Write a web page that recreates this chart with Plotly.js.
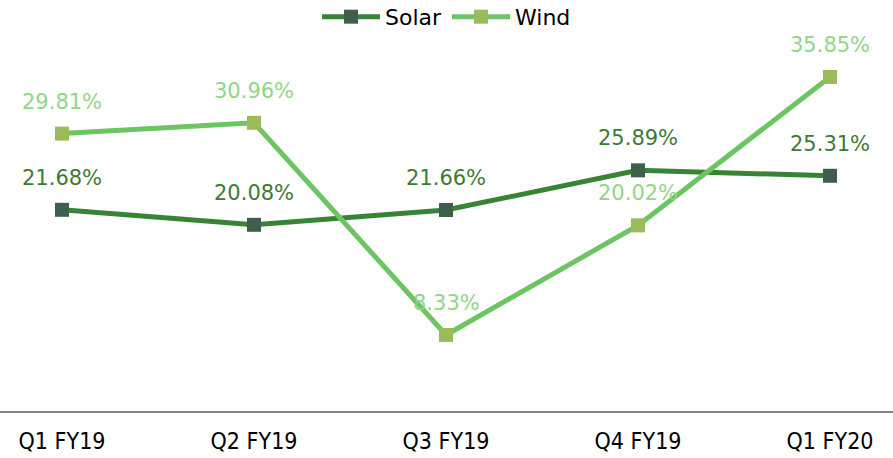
<!DOCTYPE html>
<html>
<head>
<meta charset="utf-8">
<script src="https://cdn.plot.ly/plotly-3.0.1.min.js"></script>
<style>html,body{margin:0;padding:0;background:#fff;}#chart{width:893px;height:458px;}</style>
</head>
<body>
<div id="chart"></div>
<script>
var categories = ["Q1 FY19", "Q2 FY19", "Q3 FY19", "Q4 FY19", "Q1 FY20"];
var solar = [21.68, 20.08, 21.66, 25.89, 25.31];
var wind = [29.81, 30.96, 8.33, 20.02, 35.85];
var seriesNames = ["Solar", "Wind"];

var labelFont = "'DejaVu Sans', 'Noto Sans', sans-serif";

var traces = [
  {
    x: categories, y: solar, name: seriesNames[0], type: "scatter", mode: "lines+markers",
    line: {color: "#368434", width: 5},
    marker: {symbol: "square", size: 14, color: "#3f5f4e"},
    hoverinfo: "skip"
  },
  {
    x: categories, y: wind, name: seriesNames[1], type: "scatter", mode: "lines+markers",
    line: {color: "#6cc463", width: 5},
    marker: {symbol: "square", size: 14, color: "#9bbb59"},
    hoverinfo: "skip"
  }
];

var annotations = [];
categories.forEach(function (c, i) {
  annotations.push({x: c, y: solar[i], text: solar[i].toFixed(2) + "%", showarrow: false,
    yshift: 32, font: {family: labelFont, size: 21, color: "#3f7a35"}});
  annotations.push({x: c, y: wind[i], text: wind[i].toFixed(2) + "%", showarrow: false,
    yshift: 32, font: {family: labelFont, size: 21, color: "#92d588"}});
});

var layout = {
  width: 893, height: 458,
  margin: {l: 0, r: 0, t: 0, b: 47, autoexpand: false},
  paper_bgcolor: "#ffffff", plot_bgcolor: "#ffffff",
  showlegend: true,
  legend: {orientation: "h", x: 0.5, xanchor: "center", y: 1.01, yanchor: "top",
    font: {family: labelFont, size: 22, color: "#000000"}, itemwidth: 58,
    bgcolor: "rgba(0,0,0,0)"},
  xaxis: {type: "category", range: [-0.323, 4.328], showgrid: false, zeroline: false,
    showline: true, linecolor: "#808080", linewidth: 2, ticks: "",
    tickfont: {family: "'Liberation Sans Narrow', 'DejaVu Sans Condensed', 'Noto Sans', sans-serif", size: 23, color: "#000"},
    ticklabelstandoff: 8},
  yaxis: {range: [0.22, 44.06], showgrid: false, zeroline: false, showline: false,
    showticklabels: false, ticks: ""},
  annotations: annotations
};

Plotly.newPlot("chart", traces, layout, {displayModeBar: false, staticPlot: true});
</script>
</body>
</html>
